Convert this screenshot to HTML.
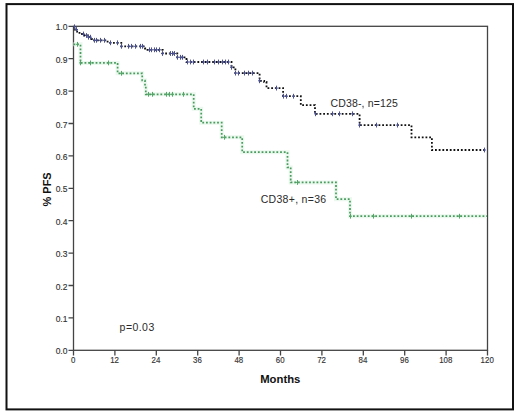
<!DOCTYPE html>
<html><head><meta charset="utf-8"><style>
html,body{margin:0;padding:0;background:#fff;width:520px;height:416px;overflow:hidden}
svg{display:block}
</style></head><body>
<svg width="520" height="416" viewBox="0 0 520 416">
<rect x="0" y="0" width="520" height="416" fill="#fff"/>
<g>
<rect x="6.5" y="4.1" width="506.5" height="405.3" fill="none" stroke="#111" stroke-width="2"/>
<rect x="73.5" y="26.3" width="414.0" height="324.0" fill="none" stroke="#444" stroke-width="1.3"/>
<path d="M68.5,350.30H73.5M68.5,317.90H73.5M68.5,285.50H73.5M68.5,253.10H73.5M68.5,220.70H73.5M68.5,188.30H73.5M68.5,155.90H73.5M68.5,123.50H73.5M68.5,91.10H73.5M68.5,58.70H73.5M68.5,26.30H73.5M73.50,350.3V355.5M114.90,350.3V355.5M156.30,350.3V355.5M197.70,350.3V355.5M239.10,350.3V355.5M280.50,350.3V355.5M321.90,350.3V355.5M363.30,350.3V355.5M404.70,350.3V355.5M446.10,350.3V355.5M487.50,350.3V355.5" stroke="#444" stroke-width="1.3" fill="none"/>
<g font-family="Liberation Sans, sans-serif" font-size="9.4" fill="#333" stroke="#333" stroke-width="0.15"><text transform="translate(67.4,354.40) scale(0.9,1)" text-anchor="end">0.0</text><text transform="translate(67.4,322.00) scale(0.9,1)" text-anchor="end">0.1</text><text transform="translate(67.4,289.60) scale(0.9,1)" text-anchor="end">0.2</text><text transform="translate(67.4,257.20) scale(0.9,1)" text-anchor="end">0.3</text><text transform="translate(67.4,224.80) scale(0.9,1)" text-anchor="end">0.4</text><text transform="translate(67.4,192.40) scale(0.9,1)" text-anchor="end">0.5</text><text transform="translate(67.4,160.00) scale(0.9,1)" text-anchor="end">0.6</text><text transform="translate(67.4,127.60) scale(0.9,1)" text-anchor="end">0.7</text><text transform="translate(67.4,95.20) scale(0.9,1)" text-anchor="end">0.8</text><text transform="translate(67.4,62.80) scale(0.9,1)" text-anchor="end">0.9</text><text transform="translate(67.4,30.40) scale(0.9,1)" text-anchor="end">1.0</text><text transform="translate(73.20,363.3) scale(0.84,1)" text-anchor="middle">0</text><text transform="translate(114.60,363.3) scale(0.84,1)" text-anchor="middle">12</text><text transform="translate(156.00,363.3) scale(0.84,1)" text-anchor="middle">24</text><text transform="translate(197.40,363.3) scale(0.84,1)" text-anchor="middle">36</text><text transform="translate(238.80,363.3) scale(0.84,1)" text-anchor="middle">48</text><text transform="translate(280.20,363.3) scale(0.84,1)" text-anchor="middle">60</text><text transform="translate(321.60,363.3) scale(0.84,1)" text-anchor="middle">72</text><text transform="translate(363.00,363.3) scale(0.84,1)" text-anchor="middle">84</text><text transform="translate(404.40,363.3) scale(0.84,1)" text-anchor="middle">96</text><text transform="translate(445.80,363.3) scale(0.84,1)" text-anchor="middle">108</text><text transform="translate(487.20,363.3) scale(0.84,1)" text-anchor="middle">120</text></g>
<path d="M73.5,44.3H80.5V62.9H117.6V73.3H142.2V80.5H145.0V86H145.8V94.3H193.7V108.8H201.2V122.7H221.7V137.3H242.2V152.2H287.5V167.4H290.7V182.4H336.0V199.2H350.0V216.2H487" stroke="#eaf8ed" stroke-width="4" fill="none"/>
<path d="M73.5,44.3H80.5V62.9H117.6V73.3H142.2V80.5H145.0V86H145.8V94.3H193.7V108.8H201.2V122.7H221.7V137.3H242.2V152.2H287.5V167.4H290.7V182.4H336.0V199.2H350.0V216.2H487" stroke="#4a9a60" stroke-width="1.7" stroke-dasharray="1.8 1.9" fill="none"/>
<path d="M77.5,41.9V46.699999999999996M76.0,44.3H79.0M80.5,60.5V65.3M79.0,62.9H82.0M90.5,60.5V65.3M89.0,62.9H92.0M108.5,60.5V65.3M107.0,62.9H110.0M121.5,70.89999999999999V75.7M120.0,73.3H123.0M148.5,91.89999999999999V96.7M147.0,94.3H150.0M152.5,91.89999999999999V96.7M151.0,94.3H154.0M166.5,91.89999999999999V96.7M165.0,94.3H168.0M169.5,91.89999999999999V96.7M168.0,94.3H171.0M172.5,91.89999999999999V96.7M171.0,94.3H174.0M183.5,91.89999999999999V96.7M182.0,94.3H185.0M224.5,134.9V139.70000000000002M223.0,137.3H226.0M297.5,180.0V184.8M296.0,182.4H299.0M350.5,213.79999999999998V218.6M349.0,216.2H352.0M373.5,213.79999999999998V218.6M372.0,216.2H375.0M411.5,213.79999999999998V218.6M410.0,216.2H413.0M459.5,213.79999999999998V218.6M458.0,216.2H461.0" stroke="#55a468" stroke-width="1" fill="none"/>
<path d="M73.5,26.8H74.8V29.5H77.0V31.5H79.5V34.0H84.5V35.5H88.0V37.2H91.5V39.0H94.0V40.3H107.6V42.8H121.3V46.3H145.0V48.5H147.5V49.8H162.7V53.5H177.3V57.3H186.5V62.0H231.5V67.3H235.4V73.1H259.6V80.8H264.2V82.0H266.5V88.1H283.1V96.2H300.8V105.2H315.0V113.8H359.6V125.1H411.5V137.3H431.9V150.0H485.5" stroke="#111" stroke-width="1.8" stroke-dasharray="1.8 1.9" fill="none"/>
<path d="M74.5,24.400000000000002V29.2M73.0,26.8H76.0M76.5,27.1V31.9M75.0,29.5H78.0M83.5,31.6V36.4M82.0,34.0H85.0M86.5,33.1V37.9M85.0,35.5H88.0M88.5,34.800000000000004V39.6M87.0,37.2H90.0M90.5,34.800000000000004V39.6M89.0,37.2H92.0M94.5,37.9V42.699999999999996M93.0,40.3H96.0M96.5,37.9V42.699999999999996M95.0,40.3H98.0M100.5,37.9V42.699999999999996M99.0,40.3H102.0M104.5,37.9V42.699999999999996M103.0,40.3H106.0M110.5,40.4V45.199999999999996M109.0,42.8H112.0M117.5,40.4V45.199999999999996M116.0,42.8H119.0M121.5,43.9V48.699999999999996M120.0,46.3H123.0M128.5,43.9V48.699999999999996M127.0,46.3H130.0M131.5,43.9V48.699999999999996M130.0,46.3H133.0M135.5,43.9V48.699999999999996M134.0,46.3H137.0M140.5,43.9V48.699999999999996M139.0,46.3H142.0M142.5,43.9V48.699999999999996M141.0,46.3H144.0M149.5,47.4V52.199999999999996M148.0,49.8H151.0M151.5,47.4V52.199999999999996M150.0,49.8H153.0M154.5,47.4V52.199999999999996M153.0,49.8H156.0M156.5,47.4V52.199999999999996M155.0,49.8H158.0M159.5,47.4V52.199999999999996M158.0,49.8H161.0M162.5,51.1V55.9M161.0,53.5H164.0M170.5,51.1V55.9M169.0,53.5H172.0M172.5,51.1V55.9M171.0,53.5H174.0M174.5,51.1V55.9M173.0,53.5H176.0M177.5,54.9V59.699999999999996M176.0,57.3H179.0M180.5,54.9V59.699999999999996M179.0,57.3H182.0M182.5,54.9V59.699999999999996M181.0,57.3H184.0M187.5,59.6V64.4M186.0,62.0H189.0M190.5,59.6V64.4M189.0,62.0H192.0M193.5,59.6V64.4M192.0,62.0H195.0M203.5,59.6V64.4M202.0,62.0H205.0M207.5,59.6V64.4M206.0,62.0H209.0M214.5,59.6V64.4M213.0,62.0H216.0M218.5,59.6V64.4M217.0,62.0H220.0M222.5,59.6V64.4M221.0,62.0H224.0M225.5,59.6V64.4M224.0,62.0H227.0M228.5,59.6V64.4M227.0,62.0H230.0M231.5,64.89999999999999V69.7M230.0,67.3H233.0M235.5,70.69999999999999V75.5M234.0,73.1H237.0M238.5,70.69999999999999V75.5M237.0,73.1H240.0M244.5,70.69999999999999V75.5M243.0,73.1H246.0M248.5,70.69999999999999V75.5M247.0,73.1H250.0M252.5,70.69999999999999V75.5M251.0,73.1H254.0M259.5,78.39999999999999V83.2M258.0,80.8H261.0M276.5,85.69999999999999V90.5M275.0,88.1H278.0M283.5,93.8V98.60000000000001M282.0,96.2H285.0M286.5,93.8V98.60000000000001M285.0,96.2H288.0M293.5,93.8V98.60000000000001M292.0,96.2H295.0M315.5,111.39999999999999V116.2M314.0,113.8H317.0M332.5,111.39999999999999V116.2M331.0,113.8H334.0M339.5,111.39999999999999V116.2M338.0,113.8H341.0M352.5,111.39999999999999V116.2M351.0,113.8H354.0M359.5,122.69999999999999V127.5M358.0,125.1H361.0M376.5,122.69999999999999V127.5M375.0,125.1H378.0M397.5,122.69999999999999V127.5M396.0,125.1H399.0M484.5,147.6V152.4M483.0,150.0H486.0" stroke="#4a5090" stroke-width="1" fill="none"/>
<text transform="translate(51.3,189.4) rotate(-90) scale(0.93,1)" font-family="Liberation Sans, sans-serif" font-size="11.8" font-weight="bold" fill="#111" text-anchor="middle">% PFS</text>
<text x="280.3" y="382.5" font-family="Liberation Sans, sans-serif" font-size="11.3" font-weight="bold" fill="#111" text-anchor="middle">Months</text>
<g font-family="Liberation Sans, sans-serif" font-size="10.5" fill="#2a2a2a" letter-spacing="0.3">
<text x="330.5" y="106.6" letter-spacing="0.15">CD38-, n=125</text>
<text x="260.7" y="203.2">CD38+, n=36</text>
<text x="119.6" y="331.3" letter-spacing="0.45">p=0.03</text>
</g>
</g>
</svg>
</body></html>
